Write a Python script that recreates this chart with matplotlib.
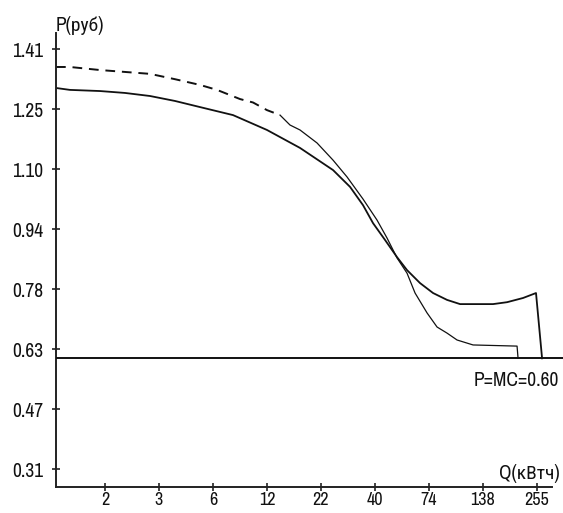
import numpy as np
import matplotlib
matplotlib.use("Agg")
import matplotlib.pyplot as plt
from matplotlib.ticker import NullLocator, FixedLocator, FixedFormatter

plt.rcParams['font.family'] = ['Archivo Narrow', 'Roboto Condensed', 'Liberation Sans', 'DejaVu Sans']

# ---- data ----
x_tick_labels = ['2', '3', '6', '12', '22', '40', '74', '138', '255']
y_tick_labels = ['0.31', '0.47', '0.63', '0.78', '0.94', '1.10', '1.25', '1.41']
mc_price = 0.60

# curve A (thick solid, starts lower, ends on upper plateau)
qa = [1.154, 1.35, 1.891, 2.504, 3.315, 4.389, 5.811, 8.418, 12.33, 17.86, 25.88,
      31.32, 36.24, 40.54, 46.38, 53.07, 59.38, 68.72, 79.52, 93.06, 107.7, 155.9,
      182.5, 218.4, 252.6, 270.4]
pa = [1.308, 1.303, 1.300, 1.295, 1.287, 1.274, 1.258, 1.237, 1.198, 1.151, 1.093,
      1.049, 1.001, 0.954, 0.910, 0.865, 0.831, 0.797, 0.771, 0.753, 0.742, 0.742,
      0.747, 0.758, 0.771, 0.600]

# curve B dashed part (starts higher)
qb_dash = [1.154, 1.35, 1.891, 2.238, 3.315, 4.389, 5.811, 7.034, 9.106, 10.54, 12.33, 14.27]
pb_dash = [1.363, 1.363, 1.355, 1.352, 1.345, 1.331, 1.316, 1.303, 1.279, 1.270, 1.250, 1.237]

# curve B solid thin part (ends on lower plateau)
qb = [14.27, 15.96, 17.86, 21.62, 25.88, 30.28, 36.24, 42.40, 47.44, 53.07, 59.38,
      64.98, 74.32, 83.17, 93.06, 104.1, 124.6, 204.2, 206.5]
pb = [1.237, 1.211, 1.198, 1.164, 1.119, 1.075, 1.017, 0.962, 0.915, 0.863, 0.823,
      0.771, 0.719, 0.682, 0.666, 0.648, 0.635, 0.632, 0.600]

# ---- figure ----
W, H = 563, 513
fig = plt.figure(figsize=(W / 100, H / 100), dpi=100)
fig.patch.set_facecolor('white')
ax = fig.add_axes([56 / W, (H - 487) / H, (W - 56) / W, (487 - 33) / H])
ax.set_facecolor('white')

ax.set_xscale('log')
xmin, xmax = 1.154, 342.0
ymin, ymax = 0.263, 1.452
ax.set_xlim(xmin, xmax)
ax.set_ylim(ymin, ymax)

xt = np.geomspace(2, 255, len(x_tick_labels))
yt = np.linspace(0.31, 1.41, len(y_tick_labels))
ax.xaxis.set_major_locator(FixedLocator(xt))
ax.xaxis.set_major_formatter(FixedFormatter(x_tick_labels))
ax.xaxis.set_minor_locator(NullLocator())
ax.set_yticks(yt)
ax.set_yticklabels(y_tick_labels)

for s in ['top', 'right']:
    ax.spines[s].set_visible(False)
for s in ['left', 'bottom']:
    ax.spines[s].set_linewidth(1.4)
    ax.spines[s].set_color('#222222')
ax.spines['bottom'].set_bounds(xmin, 302.6)

FS = 14
ax.tick_params(axis='both', direction='inout', length=6, width=1.2, colors='#222222',
               labelsize=FS, labelcolor='#111111')
ax.tick_params(axis='x', pad=0.5, labelsize=13)
ax.tick_params(axis='y', pad=6)

lc = '#111111'
ax.axhline(mc_price, color=lc, lw=1.4, zorder=3)
ax.plot(qa, pa, color=lc, lw=1.3, solid_joinstyle='round')
ax.plot(qb_dash, pb_dash, color=lc, lw=1.4, dashes=(5, 3.5))
ax.plot(qb, pb, color=lc, lw=0.9)

ax.text(0.0, 0.995, 'P(руб)', transform=ax.transAxes, ha='left', va='bottom',
        fontsize=FS, color='#111111')
ax.text(331, 0.273, 'Q(кВтч)', ha='right', va='bottom', fontsize=FS, color='#111111')
ax.text(328, 0.568, 'P=MC=0.60', ha='right', va='top', fontsize=FS, color='#111111')

fig.savefig('out.png', dpi=100, facecolor='white')
